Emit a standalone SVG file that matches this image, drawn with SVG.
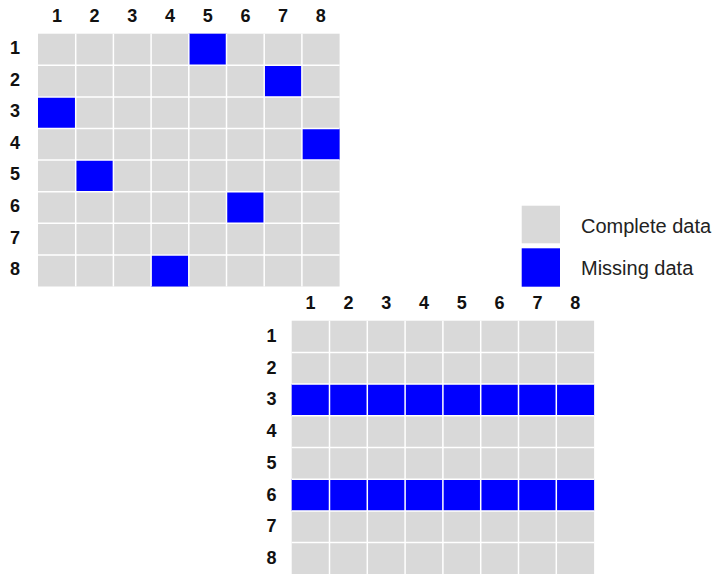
<svg xmlns="http://www.w3.org/2000/svg" width="713" height="574" viewBox="0 0 713 574">
<style>
.bg{fill:#d9d9d9}
.miss{fill:#0000ff}
.gl{stroke:#ffffff;stroke-width:1.5}
.num{font-family:"Liberation Sans",Arial,sans-serif;font-weight:bold;font-size:18px;fill:#111;text-anchor:middle}
.leg{font-family:"Liberation Sans",Arial,sans-serif;font-size:20px;fill:#222}
</style>
<rect width="713" height="574" fill="#ffffff"/>
<g id="grid1">
<rect class="bg" x="38" y="33.7" width="301.6" height="252.8"/>
<rect class="miss" x="188.8" y="33.7" width="37.7" height="31.6"/>
<rect class="miss" x="264.2" y="65.3" width="37.7" height="31.6"/>
<rect class="miss" x="38" y="96.9" width="37.7" height="31.6"/>
<rect class="miss" x="301.9" y="128.5" width="37.7" height="31.6"/>
<rect class="miss" x="75.7" y="160.1" width="37.7" height="31.6"/>
<rect class="miss" x="226.5" y="191.7" width="37.7" height="31.6"/>
<rect class="miss" x="151.1" y="254.9" width="37.7" height="31.6"/>
<g class="gl">
<line x1="75.7" y1="33.7" x2="75.7" y2="286.5"/>
<line x1="113.4" y1="33.7" x2="113.4" y2="286.5"/>
<line x1="151.1" y1="33.7" x2="151.1" y2="286.5"/>
<line x1="188.8" y1="33.7" x2="188.8" y2="286.5"/>
<line x1="226.5" y1="33.7" x2="226.5" y2="286.5"/>
<line x1="264.2" y1="33.7" x2="264.2" y2="286.5"/>
<line x1="301.9" y1="33.7" x2="301.9" y2="286.5"/>
<line x1="38" y1="65.3" x2="339.6" y2="65.3"/>
<line x1="38" y1="96.9" x2="339.6" y2="96.9"/>
<line x1="38" y1="128.5" x2="339.6" y2="128.5"/>
<line x1="38" y1="160.1" x2="339.6" y2="160.1"/>
<line x1="38" y1="191.7" x2="339.6" y2="191.7"/>
<line x1="38" y1="223.3" x2="339.6" y2="223.3"/>
<line x1="38" y1="254.9" x2="339.6" y2="254.9"/>
</g>
<g class="num">
<text x="56.9" y="22">1</text><text x="94.6" y="22">2</text><text x="132.3" y="22">3</text><text x="170" y="22">4</text>
<text x="207.7" y="22">5</text><text x="245.4" y="22">6</text><text x="283.1" y="22">7</text><text x="320.8" y="22">8</text>
<text x="15" y="54">1</text><text x="15" y="85.6">2</text><text x="15" y="117.2">3</text><text x="15" y="148.8">4</text>
<text x="15" y="180.4">5</text><text x="15" y="212">6</text><text x="15" y="243.6">7</text><text x="15" y="275.2">8</text>
</g>
</g>
<g id="grid2">
<rect class="bg" x="291.7" y="320.7" width="302.4" height="253.6"/>
<rect class="miss" x="291.7" y="384.1" width="302.4" height="31.7"/>
<rect class="miss" x="291.7" y="479.2" width="302.4" height="31.7"/>
<g class="gl">
<line x1="329.5" y1="320.7" x2="329.5" y2="574.3"/>
<line x1="367.3" y1="320.7" x2="367.3" y2="574.3"/>
<line x1="405.1" y1="320.7" x2="405.1" y2="574.3"/>
<line x1="442.9" y1="320.7" x2="442.9" y2="574.3"/>
<line x1="480.7" y1="320.7" x2="480.7" y2="574.3"/>
<line x1="518.5" y1="320.7" x2="518.5" y2="574.3"/>
<line x1="556.3" y1="320.7" x2="556.3" y2="574.3"/>
<line x1="291.7" y1="352.4" x2="594.1" y2="352.4"/>
<line x1="291.7" y1="384.1" x2="594.1" y2="384.1"/>
<line x1="291.7" y1="415.8" x2="594.1" y2="415.8"/>
<line x1="291.7" y1="447.5" x2="594.1" y2="447.5"/>
<line x1="291.7" y1="479.2" x2="594.1" y2="479.2"/>
<line x1="291.7" y1="510.9" x2="594.1" y2="510.9"/>
<line x1="291.7" y1="542.6" x2="594.1" y2="542.6"/>
</g>
<g class="num">
<text x="310.6" y="309.3">1</text><text x="348.4" y="309.3">2</text><text x="386.2" y="309.3">3</text><text x="424" y="309.3">4</text>
<text x="461.8" y="309.3">5</text><text x="499.6" y="309.3">6</text><text x="537.4" y="309.3">7</text><text x="575.2" y="309.3">8</text>
<text x="271.5" y="342">1</text><text x="271.5" y="373.7">2</text><text x="271.5" y="405.4">3</text><text x="271.5" y="437.1">4</text>
<text x="271.5" y="468.8">5</text><text x="271.5" y="500.5">6</text><text x="271.5" y="532.2">7</text><text x="271.5" y="563.9">8</text>
</g>
</g>
<g id="legend">
<rect class="bg" x="521.7" y="205.7" width="38.3" height="37.6"/>
<rect class="miss" x="521.7" y="248.3" width="38.3" height="38.4"/>
<text class="leg" x="581" y="233">Complete data</text>
<text class="leg" x="581" y="275">Missing data</text>
</g>
</svg>
